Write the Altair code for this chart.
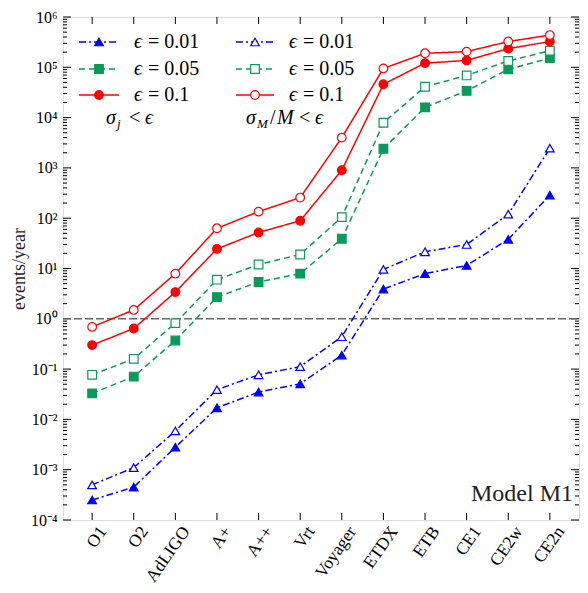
import altair as alt
import pandas as pd

detectors = ["O1", "O2", "AdLIGO", "A+", "A++", "Vrt", "Voyager", "ETDX", "ETB", "CE1", "CE2w", "CE2n"]

blue_filled = [2.5e-4, 4.5e-4, 2.8e-3, 0.017, 0.035, 0.051, 0.19, 3.9, 7.9, 11.5, 38, 288]
blue_open = [5.0e-4, 1.1e-3, 5.9e-3, 0.039, 0.077, 0.112, 0.44, 9.6, 21.5, 30, 120, 2470]
green_filled = [0.033, 0.071, 0.37, 2.7, 5.4, 7.9, 39, 2400, 16000, 34000, 91000, 152000]
green_open = [0.077, 0.16, 0.82, 6.0, 12, 19, 105, 7900, 41000, 69000, 134000, 213000]
red_filled = [0.30, 0.64, 3.4, 24.5, 52, 89, 900, 46000, 121000, 137000, 235000, 325000]
red_open = [0.69, 1.5, 7.9, 63, 135, 257, 4000, 95000, 190000, 205000, 325000, 437000]

W, H = 516, 503
BLUE = "#0000ff"
GREEN = "#0a9a5a"
RED = "#ff0000"
FONT = "Liberation Serif"

series = [
    ("b_f", blue_filled, BLUE, [7, 3, 2, 3], "triangle-up", True),
    ("b_o", blue_open, BLUE, [7, 3, 2, 3], "triangle-up", False),
    ("g_f", green_filled, GREEN, [6, 4], "square", True),
    ("g_o", green_open, GREEN, [6, 4], "square", False),
    ("r_f", red_filled, RED, [1, 0], "circle", True),
    ("r_o", red_open, RED, [1, 0], "circle", False),
]

sup = {"-": "\u207b", "0": "\u2070", "1": "\u00b9", "2": "\u00b2", "3": "\u00b3",
       "4": "\u2074", "5": "\u2075", "6": "\u2076"}
exps = list(range(-4, 7))
expr = "''"
for n in reversed(exps):
    lab = "10" + "".join(sup[c] for c in str(n))
    expr = f"datum.value < {1.5 * 10.0 ** n} ? '{lab}' : ({expr})"

yscale = alt.Scale(type="log", domain=[1e-4, 1e6], nice=False)
xscale = alt.Scale(domain=detectors, padding=0.4)

X = alt.X("det:N", sort=detectors, scale=xscale,
          axis=alt.Axis(title=None, labelAngle=-55, labelAlign="right", labelBaseline="middle",
                        tickSize=0, labelPadding=8, labelOffset=11, domain=False, labelFont=FONT,
                        labelFontSize=17.5, labelColor="black"))
Y = alt.Y("value:Q", scale=yscale,
          axis=alt.Axis(title="events/year", values=[10.0 ** n for n in exps], labelExpr=expr,
                        tickSize=0, labelPadding=6, domain=False, grid=False, labelFont=FONT,
                        labelFontSize=16, labelColor="black", titleFont=FONT, titleFontSize=18,
                        titleFontWeight="normal", titleX=-35, titleColor="#222222"))

major = [10.0 ** n for n in exps]
minor = [k * 10.0 ** n for n in range(-4, 6) for k in range(2, 10)]
tick_major = pd.DataFrame({"value": major})
tick_minor = pd.DataFrame({"value": minor})
det_df = pd.DataFrame({"det": detectors})

layers = []
# y ticks (inward) left and right
for df, ln in [(tick_major, 8), (tick_minor, 4)]:
    layers.append(alt.Chart(df).mark_rule(color="black", strokeWidth=1).encode(
        y=Y, x=alt.value(0), x2=alt.value(ln)))
    layers.append(alt.Chart(df).mark_rule(color="black", strokeWidth=1).encode(
        y=Y, x=alt.value(W - ln), x2=alt.value(W)))
# x ticks top and bottom
layers.append(alt.Chart(det_df).mark_rule(color="black", strokeWidth=1).encode(
    x=X, y=alt.value(0), y2=alt.value(7)))
layers.append(alt.Chart(det_df).mark_rule(color="black", strokeWidth=1).encode(
    x=X, y=alt.value(H - 7), y2=alt.value(H)))

# reference line at 1
layers.append(alt.Chart(pd.DataFrame({"value": [1.0]})).mark_rule(
    color="#666666", strokeDash=[8, 3], strokeWidth=1.6).encode(
    y=Y, x=alt.value(0), x2=alt.value(W)))

for key, vals, col, dash, shape, filled in series:
    df = pd.DataFrame({"det": detectors, "value": vals})
    layers.append(alt.Chart(df).mark_line(color=col, strokeDash=dash, strokeWidth=1.5).encode(x=X, y=Y))
    layers.append(alt.Chart(df).mark_point(
        shape=shape, size=75, filled=True, color=col,
        fill=col if filled else "white", stroke=col, strokeWidth=1.2, opacity=1).encode(x=X, y=Y))

# manual legend
one = pd.DataFrame({"a": [0]})
leg_rows = [25, 52, 78]
eps_labels = ["= 0.01", "= 0.05", "= 0.1"]
cols = [(16, 56, 36, 71, True), (173, 211, 192, 226, False)]
for ci, (x0, x1, xm, xt, filled) in enumerate(cols):
    for ri, (key, vals, col, dash, shape, _f) in enumerate(series[ci::2]):
        yy = leg_rows[ri]
        layers.append(alt.Chart(one).mark_rule(color=col, strokeDash=dash, strokeWidth=1.5).encode(
            x=alt.value(x0), x2=alt.value(x1), y=alt.value(yy)))
        layers.append(alt.Chart(one).mark_point(
            shape=shape, size=75, filled=True, color=col, fill=col if filled else "white",
            stroke=col, strokeWidth=1.2, opacity=1).encode(x=alt.value(xm), y=alt.value(yy)))
        layers.append(alt.Chart(one).mark_text(
            text="\u03f5", font=FONT, fontSize=20, fontStyle="italic", align="left",
            baseline="middle", color="black").encode(x=alt.value(xt), y=alt.value(yy)))
        layers.append(alt.Chart(one).mark_text(
            text=eps_labels[ri], font=FONT, fontSize=20, align="left",
            baseline="middle", color="black").encode(x=alt.value(xt + 14), y=alt.value(yy)))

# legend footers
foot_y = 101
def txt(t, x, y, size=20, style="normal"):
    return alt.Chart(one).mark_text(text=t, font=FONT, fontSize=size, fontStyle=style,
                                    align="left", baseline="middle", color="black").encode(
        x=alt.value(x), y=alt.value(y))

layers += [
    txt("\u03c3", 43, foot_y, style="italic"),
    txt("j", 54, foot_y + 6, size=13, style="italic"),
    txt("<", 66, foot_y),
    txt("\u03f5", 82, foot_y, style="italic"),
    txt("\u03c3", 183, foot_y, style="italic"),
    txt("M", 194, foot_y + 6, size=13, style="italic"),
    txt("/", 207, foot_y),
    txt("M", 214, foot_y, style="italic"),
    txt("<", 236, foot_y),
    txt("\u03f5", 252, foot_y, style="italic"),
]

layers.append(alt.Chart(one).mark_text(
    text="Model M1", font=FONT, fontSize=24, align="right", baseline="bottom",
    color="#222222").encode(x=alt.value(W - 6), y=alt.value(H - 14)))

chart = alt.layer(*layers).properties(
    width=W, height=H,
    autosize=alt.AutoSizeParams(type="none"),
    padding={"left": 55, "top": 9, "right": 1, "bottom": 65},
).configure_view(stroke="black", strokeWidth=2.5).configure(background="white")

chart.save("out.html", embed_options={"renderer": "svg", "actions": False})
